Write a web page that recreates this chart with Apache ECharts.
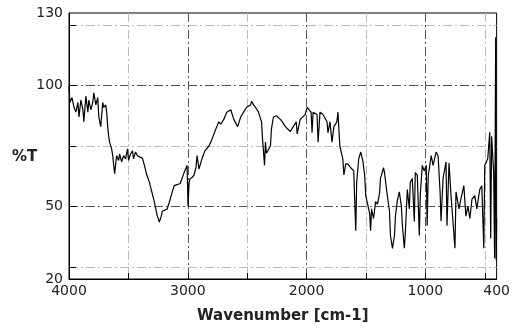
<!DOCTYPE html>
<html>
<head>
<meta charset="utf-8">
<script src="https://cdn.jsdelivr.net/npm/echarts@6/dist/echarts.min.js"></script>
<style>
  html, body { margin: 0; padding: 0; background: #fff; }
  #chart { width: 513px; height: 329px; }
</style>
</head>
<body>
<div id="chart"></div>
<script>
// wavenumber (cm-1) and transmittance (%T)
var wavenumbers = [
  4000, 3992, 3975, 3958, 3942, 3925, 3916, 3900, 3883, 3875, 3858, 3841, 3833, 3816, 3800, 3791,
  3774, 3758, 3749, 3733, 3716, 3708, 3691, 3683, 3674, 3666, 3658, 3641, 3632, 3616, 3599, 3582,
  3574, 3557, 3541, 3524, 3507, 3499, 3482, 3465, 3457, 3440, 3424, 3407, 3382, 3365, 3348, 3323,
  3282, 3257, 3248, 3240, 3223, 3215, 3190, 3173, 3148, 3115, 3090, 3064, 3031, 3014, 3006, 2998,
  2989, 2981, 2964, 2948, 2931, 2922, 2906, 2881, 2856, 2822, 2806, 2797, 2764, 2739, 2722, 2697,
  2672, 2638, 2613, 2580, 2555, 2530, 2505, 2471, 2463, 2446, 2430, 2405, 2379, 2371, 2363, 2354,
  2346, 2338, 2329, 2304, 2296, 2279, 2254, 2221, 2204, 2179, 2137, 2112, 2087, 2079, 2054, 2012,
  1995, 1962, 1954, 1945, 1912, 1903, 1887, 1862, 1828, 1820, 1803, 1786, 1770, 1745, 1736, 1720,
  1695, 1686, 1670, 1653, 1628, 1603, 1595, 1586, 1578, 1561, 1544, 1527, 1511, 1502, 1486, 1469,
  1461, 1453, 1436, 1419, 1403, 1386, 1378, 1352, 1344, 1327, 1302, 1294, 1277, 1260, 1252, 1236,
  1219, 1202, 1193, 1177, 1168, 1152, 1135, 1127, 1110, 1093, 1085, 1068, 1051, 1043, 1026, 1010,
  993, 985, 976, 951, 935, 910, 893, 876, 868, 851, 826, 818, 801, 784, 751, 742,
  717, 701, 676, 659, 642, 625, 608, 584, 567, 542, 525, 508, 500, 475, 458, 450,
  442, 425, 417, 408, 404, 400
];
var transmittance = [
  99.7, 93, 95, 91, 89, 93, 87, 94, 90, 85, 95.6, 89, 94, 90, 93, 97,
  92, 95, 87, 83, 93, 91, 92, 89, 83, 79, 76.6, 73.8, 71, 63.5, 71, 69,
  71.7, 68.4, 71, 69.7, 73.8, 69, 71.7, 73, 69.7, 72.5, 71, 70.5, 70, 67, 63.5, 60,
  52, 46, 45, 43.5, 46, 48, 48.5, 49, 53, 58.6, 59, 59.5, 64, 66, 67, 50,
  60, 61.5, 62, 63, 66, 71, 65.5, 69.7, 73, 75, 76.6, 77, 82, 85, 84, 86,
  89, 90, 86, 83, 87, 89, 91, 92, 93.5, 92, 91, 89, 85, 78, 73, 67,
  76.6, 72, 71.7, 75, 82, 87, 87.5, 86, 85, 83, 81, 83, 85, 80, 86, 88,
  91, 89, 80.5, 89, 88, 76.6, 89, 88, 85, 80.5, 85, 76.6, 83, 85, 89, 75,
  69.7, 63, 67.6, 67.6, 66, 64.7, 53, 40, 60, 69.7, 72.5, 69, 63, 54.5, 51, 47,
  40, 49, 45, 52, 51, 55.3, 61.5, 66, 64, 57, 48, 38, 32.7, 38, 46, 52.4,
  56, 50, 42, 32.7, 39.7, 57, 49, 60, 61.5, 43.8, 64, 63, 38, 54.5, 67, 64.7,
  67, 42, 62.7, 71, 67, 72.5, 71, 56, 44, 61.5, 68.4, 42, 68, 54.5, 32.7, 56,
  49, 53, 58.6, 46, 50, 45, 53, 54.5, 49, 57, 58.6, 32.7, 67, 69.7, 80.7, 36.8,
  79, 64, 28.6, 120, 28, 45
];
var xLabelValues = [4000, 3000, 2000, 1000, 400];
var xTickValues = [3500, 3000, 2500, 2000, 1500, 1000, 500];
var yLabelValues = [20, 50, 100, 130];
var yTickValues = [25, 50, 75, 100, 125];

var spectrum = wavenumbers.map(function (w, i) { return [w, transmittance[i]]; });

var chart = echarts.init(document.getElementById('chart'), null, { renderer: 'canvas' });
var textFont = 'DejaVu Sans';
chart.setOption({
  animation: false,
  backgroundColor: '#fff',
  grid: {
    left: 69, right: 13, top: 13, bottom: 48,
    show: true, borderColor: '#000', borderWidth: 1, backgroundColor: 'transparent'
  },
  graphic: [{
    type: 'text', left: 12, top: 150,
    style: { text: '%T', font: 'bold 15px "DejaVu Sans"', fill: '#222' }
  }],
  xAxis: {
    type: 'value', inverse: true, min: 400, max: 4000,
    name: 'Wavenumber [cm-1]', nameLocation: 'middle', nameGap: 30,
    nameTextStyle: { fontFamily: textFont, fontWeight: 'bold', fontSize: 15, color: '#222' },
    axisLine: { lineStyle: { color: '#000', width: 1 } },
    axisTick: { show: true, inside: true, length: 6, customValues: xTickValues, lineStyle: { color: '#000' } },
    axisLabel: {
      customValues: xLabelValues, fontFamily: textFont, fontSize: 14, color: '#222', margin: 5,
      formatter: function (v) { return String(v); }
    },
    splitLine: {
      show: true,
      lineStyle: { color: ['#bbb', '#555'], width: 1, type: [9, 3, 2, 3] }
    }
  },
  yAxis: {
    type: 'value', min: 20, max: 130,
    axisLine: { show: true, lineStyle: { color: '#000', width: 1 } },
    axisTick: { show: true, inside: true, length: 7, customValues: yTickValues, lineStyle: { color: '#000' } },
    axisLabel: {
      customValues: yLabelValues, fontFamily: textFont, fontSize: 14, color: '#222', margin: 6,
      formatter: function (v) { return String(v); }
    },
    splitLine: {
      show: true,
      lineStyle: { color: ['#bbb', '#555'], width: 1, type: [9, 3, 2, 3] }
    }
  },
  series: [{
    type: 'line',
    data: spectrum,
    showSymbol: false,
    symbol: 'none',
    lineStyle: { color: '#000', width: 1.2 },
    z: 5
  }]
});
</script>
</body>
</html>
